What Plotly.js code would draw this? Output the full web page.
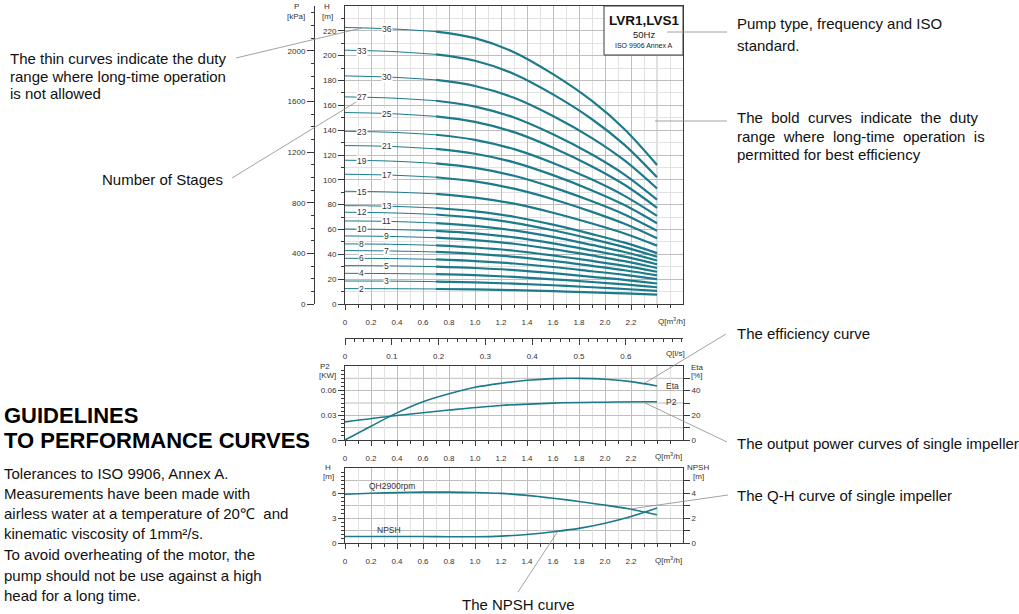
<!DOCTYPE html>
<html>
<head>
<meta charset="utf-8">
<script src="https://cdn.plot.ly/plotly-3.0.1.min.js"></script>
<style>html,body{margin:0;padding:0;background:#fff;}#chart{width:1019px;height:614px;}</style>
</head>
<body>
<div id="chart"></div>
<script>
// ---------------- DATA ----------------
// Top chart: head curves of multistage pumps (Q in m3/h, H in m)
const Q_TOP = [0, 0.35, 0.7, 1.0, 1.3, 1.6, 1.9, 2.15, 2.4];
const STAGES = [2, 3, 4, 5, 6, 7, 8, 9, 10, 11, 12, 13, 15, 17, 19, 21, 23, 25, 27, 30, 33, 36];
const H_S2  = [12.4, 12.3, 12.1, 11.7, 11.1, 10.3, 9.3, 8.5, 7.5];
const H_S3  = [18.5, 18.4, 18.0, 17.4, 16.4, 15.1, 13.5, 12.1, 10.5];
const H_S4  = [24.7, 24.5, 24.1, 23.2, 21.8, 19.9, 17.7, 15.8, 13.5];
const H_S5  = [30.9, 30.7, 30.1, 29.0, 27.3, 24.8, 21.9, 19.5, 16.5];
const H_S6  = [36.8, 36.6, 35.9, 34.6, 32.6, 29.8, 26.4, 23.5, 20.0];
const H_S7  = [43.0, 42.7, 41.9, 40.4, 38.0, 34.7, 30.7, 27.2, 23.0];
const H_S8  = [48.4, 48.1, 47.2, 45.5, 42.9, 39.1, 34.7, 30.7, 26.0];
const H_S9  = [54.8, 54.4, 53.4, 51.5, 48.5, 44.2, 39.1, 34.5, 29.0];
const H_S10 = [60.4, 60.0, 58.9, 56.9, 53.6, 48.8, 43.1, 38.1, 32.0];
const H_S11 = [66.9, 66.5, 65.2, 62.9, 59.3, 54.0, 47.6, 41.9, 35.0];
const H_S12 = [73.9, 73.4, 72.1, 69.5, 65.4, 59.4, 52.3, 45.8, 38.0];
const H_S13 = [79.2, 78.7, 77.3, 74.6, 70.3, 63.9, 56.3, 49.4, 41.0];
const H_S15 = [90.8, 90.2, 88.7, 85.7, 80.8, 73.5, 64.8, 56.8, 47.0];
const H_S17 = [104.5, 103.8, 102.1, 98.7, 92.9, 84.4, 74.2, 64.6, 53.0];
const H_S19 = [115.8, 115.1, 113.2, 109.6, 103.3, 93.9, 82.7, 72.1, 59.0];
const H_S21 = [127.6, 126.9, 124.9, 121.0, 114.1, 103.8, 91.5, 79.7, 65.0];
const H_S23 = [139.1, 138.3, 136.3, 132.2, 124.7, 113.6, 100.2, 87.1, 71.0];
const H_S25 = [154.2, 153.3, 151.1, 146.7, 138.4, 125.9, 110.8, 96.0, 77.5];
const H_S27 = [166.8, 165.9, 163.7, 159.0, 150.2, 136.7, 120.4, 104.2, 84.0];
const H_S30 = [183.7, 182.7, 180.5, 175.6, 166.1, 151.4, 133.6, 115.6, 93.0];
const H_S33 = [204.4, 203.4, 201.0, 195.9, 185.3, 168.8, 148.8, 128.1, 102.0];
const H_S36 = [222.7, 221.6, 219.4, 214.1, 202.8, 185.1, 163.5, 140.8, 112.0];
const HEADS = [H_S2, H_S3, H_S4, H_S5, H_S6, H_S7, H_S8, H_S9, H_S10, H_S11, H_S12,
               H_S13, H_S15, H_S17, H_S19, H_S21, H_S23, H_S25, H_S27, H_S30, H_S33, H_S36];

// Middle chart: efficiency [%] and P2 [kW]
const Q_ETA = [0, 0.2, 0.4, 0.6, 0.8, 1.0, 1.2, 1.4, 1.6, 1.8, 2.0, 2.2, 2.4];
const ETA   = [0, 11.2, 22.0, 31.0, 37.5, 42.7, 46.0, 48.4, 49.8, 50.0, 49.3, 47.3, 43.8];
const Q_P2  = [0, 0.4, 0.8, 1.2, 1.6, 2.0, 2.3, 2.4];
const P2    = [0.022, 0.0298, 0.0364, 0.042, 0.0449, 0.046, 0.0465, 0.0465];

// Bottom chart: single impeller Q-H [m] and NPSH [m]
const Q_SINGLE = [0, 0.2, 0.4, 0.6, 0.8, 1.0, 1.2, 1.4, 1.6, 1.8, 2.0, 2.2, 2.4];
const QH_SINGLE = [5.85, 5.97, 6.05, 6.1, 6.1, 6.06, 5.95, 5.72, 5.38, 4.98, 4.55, 4.05, 3.4];
const NPSH      = [0.52, 0.52, 0.52, 0.52, 0.5, 0.5, 0.55, 0.68, 0.9, 1.17, 1.58, 2.12, 2.8];

// Tick labels
const Q_TICKS = [0, 0.2, 0.4, 0.6, 0.8, 1.0, 1.2, 1.4, 1.6, 1.8, 2.0, 2.2];
const Q_TICKTEXT = ['0', '0.2', '0.4', '0.6', '0.8', '1.0', '1.2', '1.4', '1.6', '1.8', '2.0', '2.2'];
const QLS_TICKS = [0, 0.1, 0.2, 0.3, 0.4, 0.5, 0.6];
const QLS_TICKTEXT = ['0', '0.1', '0.2', '0.3', '0.4', '0.5', '0.6'];
const H_TICKS = [0, 20, 40, 60, 80, 100, 120, 140, 160, 180, 200, 220];
const P_TICKS = [0, 400, 800, 1200, 1600, 2000];
const P2_TICKS = [0, 0.03, 0.06];
const ETA_TICKS = [0, 20, 40];
const HS_TICKS = [0, 3, 6];
const NPSH_TICKS = [0, 2, 4];

// ---------------- LAYOUT HELPERS ----------------
const W = 1019, HT = 614;
const px = x => x / W;
const py = y => 1 - y / HT;
const TEAL = '#1c7a8b';
const AX = '#3a3a3a';
const GRID = '#bdbdbd', GRID2 = '#e2e2e2';
const TICKFONT = {family: 'Liberation Sans, Arial, sans-serif', size: 8, color: '#333'};
const TXT = 'Liberation Sans, Arial, sans-serif';

function range(a, b, s) { const r = []; for (let v = a; v <= b + 1e-9; v += s) r.push(+v.toFixed(4)); return r; }
function minorVals(a, b, s, skip) { return range(a, b, s).filter(v => !skip.some(k => Math.abs(k - v) < 1e-6)); }

const traces = [];
HEADS.forEach((h, i) => {
  traces.push({x: Q_TOP.slice(0, 3), y: h.slice(0, 3), xaxis: 'x', yaxis: 'y', mode: 'lines',
    line: {color: TEAL, width: 1, shape: 'spline'}, hoverinfo: 'skip', showlegend: false});
  traces.push({x: Q_TOP.slice(2), y: h.slice(2), xaxis: 'x', yaxis: 'y', mode: 'lines',
    line: {color: TEAL, width: 2.2, shape: 'spline'}, hoverinfo: 'skip', showlegend: false});
});
// dummy traces to draw the secondary axes
traces.push({x: [0], y: [0], xaxis: 'x', yaxis: 'y2', mode: 'markers', marker: {opacity: 0}, hoverinfo: 'skip', showlegend: false});
traces.push({x: [0], y: [0], xaxis: 'x2', yaxis: 'y', mode: 'markers', marker: {opacity: 0}, hoverinfo: 'skip', showlegend: false});
// middle
traces.push({x: Q_ETA, y: ETA, xaxis: 'x3', yaxis: 'y4', mode: 'lines', line: {color: TEAL, width: 1.6, shape: 'spline'}, hoverinfo: 'skip', showlegend: false});
traces.push({x: Q_P2, y: P2, xaxis: 'x3', yaxis: 'y3', mode: 'lines', line: {color: TEAL, width: 1.6, shape: 'spline'}, hoverinfo: 'skip', showlegend: false});
// bottom
traces.push({x: Q_SINGLE, y: QH_SINGLE, xaxis: 'x4', yaxis: 'y5', mode: 'lines', line: {color: TEAL, width: 1.6, shape: 'spline'}, hoverinfo: 'skip', showlegend: false});
traces.push({x: Q_SINGLE, y: NPSH, xaxis: 'x4', yaxis: 'y6', mode: 'lines', line: {color: TEAL, width: 1.6, shape: 'spline'}, hoverinfo: 'skip', showlegend: false});

const XDOM = [px(345), px(683)];
function qAxis(anchor) {
  return {domain: XDOM, range: [0, 2.6], anchor: anchor, tickmode: 'array', tickvals: Q_TICKS, ticktext: Q_TICKTEXT,
    ticks: 'outside', ticklen: 5, tickcolor: AX, tickfont: TICKFONT, ticklabelstandoff: 5,
    showline: true, linecolor: AX, linewidth: 1, mirror: true, zeroline: false,
    showgrid: true, gridcolor: GRID, gridwidth: 1,
    minor: {tickvals: minorVals(0.1, 2.5, 0.1, Q_TICKS), ticks: 'outside', ticklen: 3, tickcolor: AX, showgrid: true, gridcolor: GRID2},
    fixedrange: true};
}
function leftAxis(dom, rng, vals, minorv, anchor) {
  return {domain: dom, range: rng, anchor: anchor, tickmode: 'array', tickvals: vals, ticktext: vals.map(String), ticks: 'outside', ticklen: 6,
    tickcolor: AX, tickfont: TICKFONT, showline: true, linecolor: AX, mirror: true, zeroline: false,
    showgrid: true, gridcolor: GRID,
    minor: {tickvals: minorv, ticks: 'outside', ticklen: 3, tickcolor: AX, showgrid: false}, fixedrange: true};
}
function rightAxis(over, anchor, rng, vals, minorv) {
  return {overlaying: over, anchor: anchor, side: 'right', range: rng, tickmode: 'array', tickvals: vals,
    ticktext: vals.map(String), ticks: 'outside', ticklen: 6, tickcolor: AX, tickfont: TICKFONT,
    showline: true, linecolor: AX, showgrid: false, zeroline: false,
    minor: {tickvals: minorv, ticks: 'outside', ticklen: 6, tickcolor: AX, showgrid: false}, fixedrange: true};
}

const topY = leftAxis([py(304), py(6)], [0, 240], H_TICKS, minorVals(10, 230, 20, []), 'x');
topY.minor.showgrid = true; topY.minor.gridcolor = GRID2;

const layout = {
  width: W, height: HT, margin: {l: 0, r: 0, t: 0, b: 0}, paper_bgcolor: '#fff', plot_bgcolor: '#fff',
  showlegend: false, font: {family: TXT},
  xaxis: qAxis('y'),
  yaxis: topY,
  yaxis2: {overlaying: 'y', anchor: 'free', position: px(314), side: 'left', range: [0, 240 * 9.80665],
    tickmode: 'array', tickvals: P_TICKS, ticktext: P_TICKS.map(String), ticks: 'outside', ticklen: 7, tickcolor: AX,
    tickfont: TICKFONT, showline: true, linecolor: AX, showgrid: false, zeroline: false,
    minor: {tickvals: minorVals(100, 2300, 100, P_TICKS), ticks: 'outside', ticklen: 3, tickcolor: AX}, fixedrange: true},
  xaxis2: {overlaying: 'x', anchor: 'free', position: py(338), side: 'bottom', range: [0, 2.6 / 3.6],
    tickmode: 'array', tickvals: QLS_TICKS, ticktext: QLS_TICKTEXT, ticks: 'outside', ticklen: 6, tickcolor: AX,
    tickfont: TICKFONT, ticklabelstandoff: 4, showline: true, linecolor: AX, showgrid: false, zeroline: false,
    minor: {tickvals: minorVals(0.02, 0.72, 0.02, QLS_TICKS), ticks: 'outside', ticklen: 3, tickcolor: AX}, fixedrange: true},
  xaxis3: qAxis('y3'),
  yaxis3: leftAxis([py(440), py(366)], [0, 0.09], P2_TICKS, minorVals(0.005, 0.085, 0.005, P2_TICKS), 'x3'),
  yaxis4: rightAxis('y3', 'x3', [0, 60], ETA_TICKS, [10, 30, 50]),
  xaxis4: qAxis('y5'),
  yaxis5: leftAxis([py(543), py(468)], [0, 9], HS_TICKS, minorVals(0.5, 8.5, 0.5, HS_TICKS), 'x4'),
  yaxis6: rightAxis('y5', 'x4', [0, 6], NPSH_TICKS, [1, 3, 5]),
  annotations: [], shapes: []
};

const A = layout.annotations, S = layout.shapes;
// intermediate horizontal grid lines (middle and bottom charts) and the Q=2.4 grid lines
[0.015, 0.045, 0.075].forEach(v => S.push({type: 'line', xref: 'x3 domain', yref: 'y3', x0: 0, x1: 1, y0: v, y1: v, line: {color: GRID, width: 1}, layer: 'below'}));
[1.5, 4.5, 7.5].forEach(v => S.push({type: 'line', xref: 'x4 domain', yref: 'y5', x0: 0, x1: 1, y0: v, y1: v, line: {color: GRID, width: 1}, layer: 'below'}));
[['x', 'y'], ['x3', 'y3'], ['x4', 'y5']].forEach(([xa, ya]) => S.push({type: 'line', xref: xa, yref: ya + ' domain', x0: 2.4, x1: 2.4, y0: 0, y1: 1, line: {color: GRID, width: 1}, layer: 'below'}));

function note(x, y, text, opts) {
  A.push(Object.assign({xref: 'paper', yref: 'paper', x: px(x), y: py(y), text: text, showarrow: false,
    xanchor: 'left', yanchor: 'middle', font: {family: TXT, size: 15, color: '#111'}}, opts || {}));
}
function small(x, y, text, size, xa) {
  note(x, y, text, {xanchor: xa || 'center', font: {family: TXT, size: size || 8, color: '#333'}});
}
function lead(x0, y0, x1, y1) {
  S.push({type: 'line', xref: 'paper', yref: 'paper', x0: px(x0), y0: py(y0), x1: px(x1), y1: py(y1),
    line: {color: '#8a8a8a', width: 0.8}});
}

// stage labels on the curves
STAGES.forEach((n, i) => {
  const h = HEADS[i];
  const qx = ((STAGES.length - 1 - i) % 2 === 0) ? 0.32 : 0.13;
  const yv = h[0] + (h[1] - h[0]) * qx / Q_TOP[1];
  A.push({xref: 'x', yref: 'y', x: qx, y: yv, text: String(n), showarrow: false, bgcolor: '#fff', borderpad: 0,
    font: {family: TXT, size: 8.5, color: '#333'}, xanchor: 'center', yanchor: 'middle'});
});

// axis titles
small(296, 6, 'P'); small(296, 16, '[kPa]');
small(327, 6, 'H'); small(327, 16, '[m]');
small(325, 366, 'P2'); small(327, 375, '[KW]');
small(697, 367, 'Eta'); small(697, 375, '[%]');
small(328, 467, 'H'); small(328, 476, '[m]');
small(698, 467, 'NPSH'); small(698, 476, '[m]');
small(671, 321, 'Q[m<sup>3</sup>/h]'); small(668, 456, 'Q[m<sup>3</sup>/h]'); small(668, 560, 'Q[m<sup>3</sup>/h]');
small(675, 353, 'Q[l/s]');

// curve labels
A.push({xref: 'x3', yref: 'y4', x: 2.45, y: ETA[ETA.length - 1], text: 'Eta', showarrow: false, xanchor: 'left', yanchor: 'middle', font: {family: TXT, size: 8.5, color: '#333'}});
A.push({xref: 'x3', yref: 'y3', x: 2.45, y: P2[P2.length - 1], text: 'P2', showarrow: false, xanchor: 'left', yanchor: 'middle', font: {family: TXT, size: 8.5, color: '#333'}});
A.push({xref: 'x4', yref: 'y5', x: 0.36, y: 6.9, text: 'QH2900rpm', showarrow: false, xanchor: 'center', yanchor: 'middle', font: {family: TXT, size: 8.5, color: '#333'}});
A.push({xref: 'x4', yref: 'y5', x: 0.34, y: 1.6, text: 'NPSH', showarrow: false, xanchor: 'center', yanchor: 'middle', font: {family: TXT, size: 8.5, color: '#333'}});

// legend box
S.push({type: 'rect', xref: 'paper', yref: 'paper', x0: px(604), y0: py(55), x1: px(683), y1: py(6), line: {color: AX, width: 1}, fillcolor: '#fff', layer: 'above'});
note(644, 20, '<b>LVR1,LVS1</b>', {xanchor: 'center', font: {family: TXT, size: 13.5, color: '#111'}});
note(644, 34, '50Hz', {xanchor: 'center', font: {family: TXT, size: 9.5, color: '#222'}});
note(644, 45, 'ISO 9906 Annex A', {xanchor: 'center', font: {family: TXT, size: 7, color: '#222'}});

// explanation texts
note(8, 58, 'The thin curves indicate the duty');
note(8, 76, 'range where long-time operation');
note(8, 93, 'is not allowed');
note(225, 179, 'Number of Stages', {xanchor: 'right'});
note(735, 23, 'Pump type, frequency and ISO');
note(735, 45, 'standard.');
note(735, 118, 'The&nbsp; bold&nbsp; curves&nbsp; indicate&nbsp; the&nbsp; duty');
note(735, 136, 'range&nbsp; where&nbsp; long-time&nbsp; operation&nbsp; is');
note(735, 154, 'permitted for best efficiency');
note(735, 333, 'The efficiency curve');
note(735, 443, 'The output power curves of single impeller');
note(735, 495, 'The Q-H curve of single impeller');
note(460, 604, 'The NPSH curve');
note(2, 415, '<b>GUIDELINES</b>', {font: {family: TXT, size: 22, color: '#000'}});
note(2, 440, '<b>TO PERFORMANCE CURVES</b>', {font: {family: TXT, size: 22, color: '#000'}});
const para = ['Tolerances to ISO 9906, Annex A.', 'Measurements have been made with',
  'airless water at a temperature of 20℃  and', 'kinematic viscosity of 1mm²/s.',
  'To avoid overheating of the motor, the', 'pump should not be use against a high', 'head for a long time.'];
const paraY = [473, 493, 513, 533, 554, 575, 595];
para.forEach((t, i) => note(2, paraY[i], t, {font: {family: TXT, size: 15, color: '#111'}}));

// leader lines
lead(236, 58, 362, 28);
lead(232, 178, 361, 99);
lead(667, 32, 727, 32);
lead(655, 121, 727, 121);
lead(645, 383, 726, 334);
lead(643, 402, 727, 442);
lead(630, 509, 728, 495);
lead(558, 531, 518, 592);

Plotly.newPlot('chart', traces, layout, {staticPlot: true, displayModeBar: false});
</script>
</body>
</html>
